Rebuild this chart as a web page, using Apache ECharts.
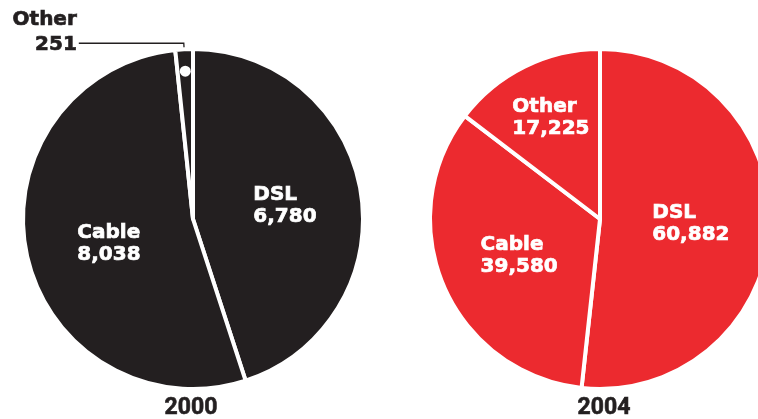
<!DOCTYPE html>
<html>
<head>
<meta charset="utf-8">
<script src="https://cdn.jsdelivr.net/npm/echarts@6/dist/echarts.min.js"></script>
<style>
  html, body { margin: 0; padding: 0; background: #fff; }
  #chart { width: 758px; height: 419px; }
</style>
</head>
<body>
<div id="chart"></div>
<script>
// Broadband subscriber breakdown, two years side by side
const years = ['2000', '2004'];
const categories = ['DSL', 'Cable', 'Other'];
const values2000 = [6780, 8038, 251];
const values2004 = [60882, 39580, 17225];

const INK = '#231f20';
const RED = '#ec2a2f';
const LABEL_FONT = 'DejaVu Sans';

const pieRadius = 170;
const centers = [[193, 219], [600, 219]];

function fmt(v) { return v.toLocaleString('en-US'); }

function insideLabel() {
  return {
    show: true,
    position: 'inside',
    formatter: p => `{a|${p.name}}\n{a|${fmt(p.value)}}`,
    rich: {
      a: {
        color: '#fff', fontFamily: LABEL_FONT, fontWeight: 'bold',
        fontSize: 20, lineHeight: 22, align: 'left',
        textBorderColor: '#fff', textBorderWidth: 0.7
      }
    }
  };
}

function buildData(values, color, smallOutside) {
  return categories.map((name, i) => {
    const item = { name, value: values[i], itemStyle: { color } };
    if (smallOutside && name === 'Other') {
      item.label = {
        show: true,
        position: 'outside',
        distanceToLabelLine: 2,
        padding: [0, 0, 21, 0],
        formatter: p => `{b|${p.name}}\n{b|${fmt(p.value)}}`,
        rich: {
          b: {
            color: INK, fontFamily: LABEL_FONT, fontWeight: 'bold',
            fontSize: 20, lineHeight: 25, align: 'right',
            textBorderColor: INK, textBorderWidth: 0.7
          }
        }
      };
      item.labelLine = {
        show: true, length: 6, length2: 105, smooth: false,
        lineStyle: { color: INK, width: 1.3 }
      };
    } else {
      item.label = insideLabel();
      item.labelLine = { show: false };
    }
    return item;
  });
}

function pieSeries(values, color, center, smallOutside, shifts) {
  return {
    type: 'pie',
    center,
    radius: pieRadius,
    startAngle: 90,
    clockwise: true,
    avoidLabelOverlap: false,
    animation: false,
    silent: true,
    emphasis: { disabled: true },
    itemStyle: { borderColor: '#fff', borderWidth: 4 },
    labelLayout: p => shifts[p.dataIndex] || {},
    data: buildData(values, color, smallOutside)
  };
}

// marker dot placed at the middle of the small "Other" wedge
function wedgeDot(values, center, index, r) {
  const total = values.reduce((s, v) => s + v, 0);
  const before = values.slice(0, index).reduce((s, v) => s + v, 0);
  const a = 2 * Math.PI * (before + values[index] / 2) / total;
  return {
    type: 'circle',
    shape: { cx: center[0] + r * Math.sin(a), cy: center[1] - r * Math.cos(a), r: 5.5 },
    style: { fill: '#fff' },
    silent: true,
    z: 100
  };
}

// nudges for the inside labels (index order follows categories)
const shifts2000 = { 0: { dx: 5, dy: 1 }, 1: { dx: 2, dy: 6 } };
const shifts2004 = { 0: { dx: 3, dy: 0 }, 1: { dx: 0, dy: 2 }, 2: { dx: -10, dy: -22 } };

const yearStyle = text => ({
  text, fill: INK, font: 'bold 23px Roboto', textAlign: 'center',
  stroke: INK, lineWidth: 0.6
});

const chart = echarts.init(document.getElementById('chart'), null, { renderer: 'canvas' });
chart.setOption({
  backgroundColor: '#fff',
  series: [
    pieSeries(values2000, INK, centers[0], true, shifts2000),
    pieSeries(values2004, RED, centers[1], false, shifts2004)
  ],
  graphic: [
    wedgeDot(values2000, centers[0], 2, 148),
    { type: 'text', x: 191, y: 397, style: yearStyle(years[0]) },
    { type: 'text', x: 604, y: 397, style: yearStyle(years[1]) }
  ]
});
</script>
</body>
</html>
